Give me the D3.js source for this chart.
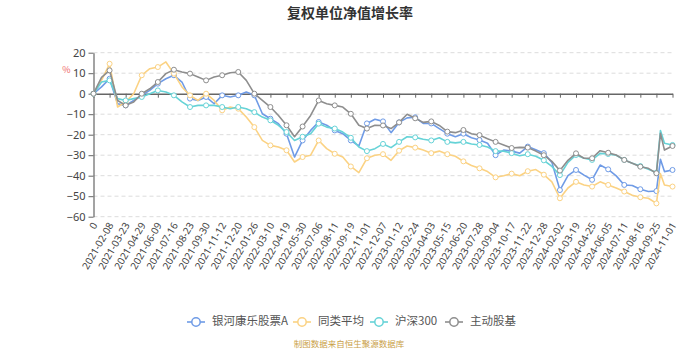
<!DOCTYPE html>
<html>
<head>
<meta charset="utf-8">
<script src="https://cdn.jsdelivr.net/npm/d3@7"></script>
<style>
  body { margin: 0; background: #fff; }
  svg { display: block; font-family: "Noto Sans CJK SC", "Noto Sans", sans-serif; }
</style>
</head>
<body>
<svg id="chart" width="700" height="350"></svg>
<script>
// Category labels shown along the x axis (one per tick)
const dateLabels = ["0","2021-02-08","2021-03-23","2021-04-29","2021-06-09","2021-07-16","2021-08-23",
  "2021-09-30","2021-11-12","2021-12-20","2022-01-26","2022-03-10","2022-04-19","2022-05-30",
  "2022-07-06","2022-08-11","2022-09-19","2022-11-01","2022-12-07","2023-01-12","2023-02-24",
  "2023-04-03","2023-05-15","2023-06-20","2023-07-28","2023-09-04","2023-10-17","2023-11-22",
  "2023-12-28","2024-02-02","2024-03-19","2024-04-25","2024-06-05","2024-07-11","2024-08-16",
  "2024-09-25","2024-11-01"];

// Sample positions, in units of label ticks
const samplePos = d3.range(0, 35.5, 0.5).concat([35.25, 35.5, 36]);

// Cumulative adjusted NAV growth (%)
const fundValues = [0,3.3,7.3,-4.9,-5.7,-3.3,-0.8,1.6,4.9,7.3,
  9,5.7,-2.4,-3.3,-1.6,-4.9,-0.8,-1.6,-0.8,0.8,
  -0.8,-9.8,-12.2,-14.6,-19.5,-30.9,-22.8,-17.9,-13.8,-15.4,
  -17.9,-19.5,-22.8,-25.5,-14.5,-12.5,-13.5,-19,-14,-11.8,
  -11.5,-14.5,-14.5,-17,-19.5,-21,-19.5,-21.5,-22.6,-24.2,
  -30,-27.5,-28,-29,-25.8,-27.3,-29,-33.5,-47,-40,
  -37.2,-39.7,-42,-34.8,-36.9,-40.1,-44.5,-44.8,-46.6,-47.7,
  -47.5,-32,-38,-37.2];

const peerAvgValues = [0,6.5,14.6,-6.5,-4,0,9,12.2,13,15.5,
  9.8,3.3,-0.8,-3.3,0,-3.3,-8.1,-6.5,-7.3,-11.4,
  -16.3,-22.8,-25.2,-26,-27.6,-33.3,-30.9,-30,-22.8,-26.8,
  -29.3,-30.9,-35.5,-38.5,-31.5,-30,-29.5,-32.5,-27.8,-25.5,
  -26.3,-27.5,-29,-28,-29.5,-30.5,-33,-35,-36.4,-38,
  -40.8,-40,-39,-40,-37.8,-37,-39.5,-43,-51,-46,
  -43,-44.5,-45.3,-43,-44.5,-46,-47.7,-49.5,-50.5,-51,
  -53.5,-39,-44.5,-45.3];

const csi300Values = [0,5.7,6.5,-2.4,-3.3,-2.4,-1.6,0,1.6,0.8,
  -0.8,-4,-6.5,-5.7,-5.7,-5.7,-6.5,-7.3,-6.5,-7.3,
  -9,-11.4,-13,-15.4,-18.7,-22.8,-21,-19.5,-14.6,-16.3,
  -17,-18.7,-21.5,-26,-28,-26.8,-24.5,-26.3,-23.5,-21,
  -21.3,-22.2,-22.8,-21.5,-23.5,-24,-23.5,-24.5,-25,-26,
  -28,-28,-29,-30.3,-29.5,-30.5,-32.5,-35.5,-39.7,-33.5,
  -29.9,-31.5,-32.3,-29.1,-29.4,-30,-32.3,-33.9,-35.3,-36.9,
  -38.5,-18,-24.2,-25];

const activeEqValues = [0,8,11.4,-3.3,-5.7,-4,0,2.4,5.7,9.8,
  11.7,10.6,9.8,8.1,6.5,8.1,9,10.2,10.6,6.5,
  0,-3.3,-6.5,-10.6,-15.4,-21,-16,-10.6,-3.3,-4.9,
  -5.7,-6.5,-9.8,-15.4,-17,-15.4,-15.5,-17,-14,-10,
  -12,-14,-13.5,-15.5,-18.5,-19,-17.7,-19.5,-20.2,-22,
  -23.5,-25,-26.5,-26.2,-26.3,-28,-30,-33,-37.5,-32.5,
  -29.1,-31.5,-31.5,-27.8,-28.8,-29.9,-32.3,-33.9,-35.6,-36.4,
  -38.8,-19.3,-27.5,-25.5];

const seriesNames = ["银河康乐股票A", "同类平均", "沪深300", "主动股基"];
const seriesColors = ["#6f9be6", "#fbd283", "#66d3d7", "#8e8e8e"];
const yTicks = [20, 10, 0, -10, -20, -30, -40, -50, -60];

const series = [fundValues, peerAvgValues, csi300Values, activeEqValues].map((vals, k) => ({
  name: seriesNames[k],
  color: seriesColors[k],
  points: vals.map((v, j) => ({ p: samplePos[j], v }))
}));

const svg = d3.select("#chart");
const plotLeft = 93.5, plotRight = 672.5, plotTop = 52.7, plotBottom = 216.7;

const x = d3.scaleLinear().domain([0, dateLabels.length - 1]).range([plotLeft, plotRight]);
const y = d3.scaleLinear().domain([-60, 20]).range([plotBottom, plotTop]);

// Title
svg.append("text")
  .attr("x", 350).attr("y", 18)
  .attr("text-anchor", "middle")
  .attr("font-size", 14).attr("font-weight", "bold")
  .attr("fill", "#333")
  .text("复权单位净值增长率");

// Unit label
svg.append("text")
  .attr("x", 66.5).attr("y", 71)
  .attr("text-anchor", "middle").attr("dominant-baseline", "middle")
  .attr("font-size", 9).attr("fill", "#ee6666")
  .text("%");

// Dashed horizontal grid
svg.append("g").selectAll("line")
  .data(yTicks.filter(t => t !== 0))
  .join("line")
  .attr("x1", plotLeft).attr("x2", plotRight)
  .attr("y1", d => y(d)).attr("y2", d => y(d))
  .attr("stroke", "#dcdcdc").attr("stroke-width", 1)
  .attr("stroke-dasharray", "4,3");

// Y axis
const yAxis = d3.axisLeft(y).tickValues(yTicks).tickSize(5).tickPadding(3).tickSizeOuter(0);
const yg = svg.append("g").attr("transform", `translate(${plotLeft},0)`).call(yAxis);
yg.select(".domain").attr("stroke", "#666").attr("stroke-width", 1.2);
yg.selectAll(".tick line").attr("stroke", "#666");
yg.selectAll(".tick text").attr("fill", "#444").attr("font-size", 11)
  .attr("font-family", "\"Noto Sans\", sans-serif");

// X axis line sits on zero
const xAxis = d3.axisBottom(x).tickValues(d3.range(dateLabels.length)).tickSize(4).tickSizeOuter(0).tickFormat("");
const xg = svg.append("g").attr("transform", `translate(0,${y(0)})`).call(xAxis);
xg.select(".domain").attr("stroke", "#666").attr("stroke-width", 1.5);
xg.selectAll(".tick line").attr("stroke", "#666");

// Rotated date labels below the plot
svg.append("g").selectAll("text")
  .data(dateLabels)
  .join("text")
  .attr("transform", (d, i) => `translate(${x(i) + 2},${plotBottom + 7}) rotate(-60)`)
  .attr("text-anchor", "end")
  .attr("dominant-baseline", "middle")
  .attr("font-size", 10)
  .attr("font-family", "\"Noto Sans\", sans-serif")
  .attr("fill", "#444")
  .text(d => d);

// Lines
const line = d3.line().x(d => x(d.p)).y(d => y(d.v));
const lines = svg.append("g");
series.forEach(s => {
  lines.append("path")
    .datum(s.points)
    .attr("fill", "none")
    .attr("stroke", s.color)
    .attr("stroke-width", 1.6)
    .attr("stroke-linejoin", "round")
    .attr("d", line);
  lines.append("g").selectAll("circle")
    .data(s.points.filter(d => Number.isInteger(d.p)))
    .join("circle")
    .attr("cx", d => x(d.p)).attr("cy", d => y(d.v))
    .attr("r", 2.5)
    .attr("fill", "#fff")
    .attr("stroke", s.color)
    .attr("stroke-width", 1);
});

// Legend
const legendIconX = [187, 293, 370, 445];
const legendY = 322;
const lg = svg.append("g");
series.forEach((s, k) => {
  const g = lg.append("g").attr("transform", `translate(${legendIconX[k]},${legendY})`);
  g.append("line").attr("x1", 0).attr("x2", 18).attr("y1", 0).attr("y2", 0)
    .attr("stroke", s.color).attr("stroke-width", 1.6);
  g.append("circle").attr("cx", 9).attr("cy", 0).attr("r", 4.2)
    .attr("fill", "#fff").attr("stroke", s.color).attr("stroke-width", 1.5);
  g.append("text").attr("x", 25).attr("y", 0)
    .attr("dominant-baseline", "middle")
    .attr("font-size", 11.5).attr("fill", "#555")
    .text(s.name);
});

// Source note
svg.append("text")
  .attr("x", 349).attr("y", 345)
  .attr("text-anchor", "middle").attr("dominant-baseline", "middle")
  .attr("font-size", 8.5).attr("fill", "#c9a046")
  .text("制图数据来自恒生聚源数据库");
</script>
</body>
</html>
